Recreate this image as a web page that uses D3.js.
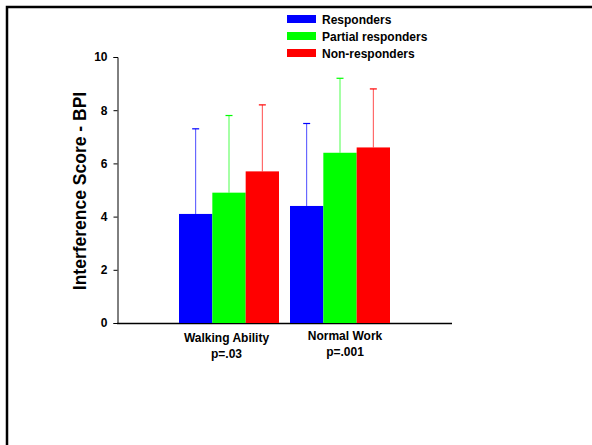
<!DOCTYPE html>
<html><head><meta charset="utf-8">
<script src="https://cdn.jsdelivr.net/npm/d3@7"></script>
<style>body{margin:0;background:#fff;}svg{display:block;font-family:"Liberation Sans",Arial,sans-serif;}</style>
</head><body>
<svg id="chart" width="592" height="445"></svg>
<script>
const categories = ["Walking Ability", "Normal Work"];
const pValues = ["p=.03", "p=.001"];
const seriesNames = ["Responders", "Partial responders", "Non-responders"];
const seriesColors = ["#0000ff", "#00ff00", "#ff0000"];
const means = [[4.1, 4.4], [4.9, 6.4], [5.7, 6.6]];
const upperErr = [[7.3, 7.5], [7.8, 9.2], [8.2, 8.8]];
const yTicks = [0, 2, 4, 6, 8, 10];

const svg = d3.select("#chart");
// frame
svg.append("rect").attr("x", 7).attr("y", 7).attr("width", 620).attr("height", 480)
  .attr("fill", "none").attr("stroke", "#000").attr("stroke-width", 2.5);

const y = d3.scaleLinear().domain([0, 10]).range([323, 57]);
const x0 = d3.scaleBand().domain(categories).range([179, 390]).paddingInner(11 / 111).paddingOuter(0);
const x1 = d3.scaleBand().domain(seriesNames).range([0, x0.bandwidth()]);

// y axis
const yAxis = d3.axisLeft(y).tickValues(yTicks).tickSize(4).tickPadding(6).tickFormat(d3.format("d"));
const gy = svg.append("g").attr("transform", "translate(117.5,0)").call(yAxis);
gy.select(".domain").attr("stroke", "#000").attr("stroke-width", 1);
gy.selectAll(".tick line").attr("stroke", "#000");
gy.selectAll(".tick text").attr("font-size", 12).attr("font-weight", "bold").attr("fill", "#000")
  .attr("font-family", "Liberation Sans, Arial, sans-serif");

// x axis line
svg.append("line").attr("x1", 117).attr("x2", 452).attr("y1", 323.5).attr("y2", 323.5)
  .attr("stroke", "#000").attr("stroke-width", 1.5);

// bars
const groups = svg.append("g").selectAll("g").data(categories).join("g")
  .attr("transform", d => `translate(${x0(d)},0)`);
seriesNames.forEach((s, si) => {
  groups.each(function(c, ci) {
    const g = d3.select(this);
    const bx = x1(s), bw = x1.bandwidth();
    const cx = bx + bw / 2;
    // error bar
    g.append("line").attr("x1", cx).attr("x2", cx).attr("y1", y(means[si][ci])).attr("y2", y(upperErr[si][ci]))
      .attr("stroke", seriesColors[si]).attr("stroke-opacity", 0.7).attr("stroke-width", 1);
    g.append("line").attr("x1", cx - 3.5).attr("x2", cx + 3.5).attr("y1", y(upperErr[si][ci])).attr("y2", y(upperErr[si][ci]))
      .attr("stroke", seriesColors[si]).attr("stroke-width", 1.2);
    g.append("rect").attr("x", bx).attr("width", bw).attr("y", y(means[si][ci]))
      .attr("height", y(0) - y(means[si][ci])).attr("fill", seriesColors[si]);
  });
});

// category labels
const labDy = [0, -2];
const labDx = [-2.5, 5];
categories.forEach((c, i) => {
  const cx = x0(c) + x0.bandwidth() / 2 + labDx[i];
  svg.append("text").attr("x", cx).attr("y", 342 + labDy[i]).attr("text-anchor", "middle")
    .attr("font-size", 12).attr("font-weight", "bold").text(c);
  svg.append("text").attr("x", cx).attr("y", 358 + labDy[i]).attr("text-anchor", "middle")
    .attr("font-size", 12).attr("font-weight", "bold").text(pValues[i]);
});

// y title
svg.append("text").attr("transform", "translate(86,191) rotate(-90)").attr("text-anchor", "middle")
  .attr("font-size", 17.5).attr("font-weight", "bold").text("Interference Score - BPI");

// legend
const leg = svg.append("g").selectAll("g").data(seriesNames).join("g")
  .attr("transform", (d, i) => `translate(287,${15 + i * 17})`);
leg.append("rect").attr("width", 29).attr("height", 8).attr("fill", (d, i) => seriesColors[i]);
leg.append("text").attr("x", 35).attr("y", 8.5).attr("font-size", 12).attr("font-weight", "bold").text(d => d);
</script>
</body></html>
